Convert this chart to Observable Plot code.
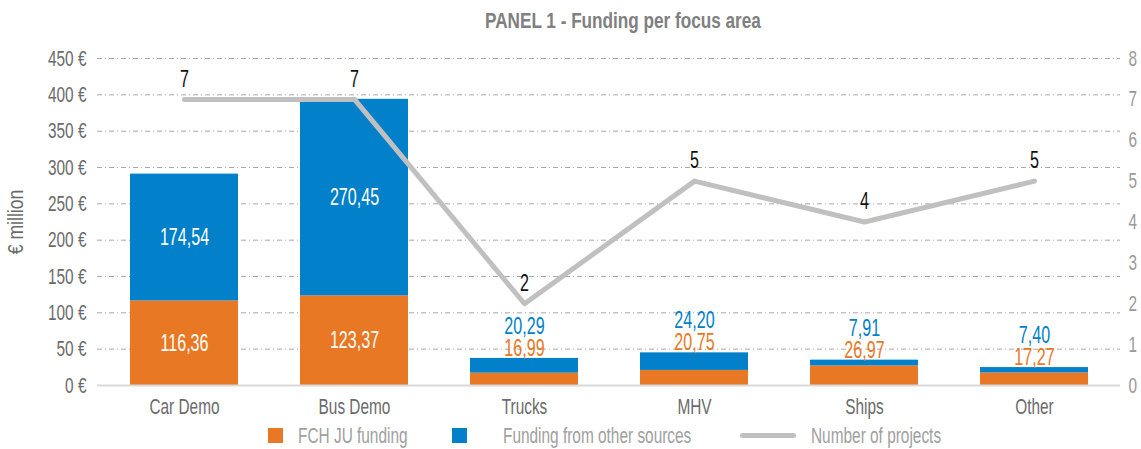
<!DOCTYPE html>
<html><head><meta charset="utf-8">
<script src="https://cdn.jsdelivr.net/npm/d3@7"></script>
<script src="https://cdn.jsdelivr.net/npm/@observablehq/plot@0.6"></script>
<style>
body{margin:0;background:#fff;font-family:"Liberation Sans",Arial,sans-serif;}
#wrap{position:relative;width:1141px;height:449px;overflow:hidden;}
#title{position:absolute;top:8px;left:485px;font-weight:bold;font-size:22px;line-height:26px;color:#808080;transform:scaleX(0.78);transform-origin:left center;white-space:nowrap;}
#chart{position:absolute;top:40px;left:0;}
.lg{position:absolute;top:423px;font-size:22px;line-height:26px;color:#a0a0a0;transform:scaleX(0.7);transform-origin:left center;white-space:nowrap;}
.sw{position:absolute;width:15px;height:15px;}
</style></head>
<body><div id="wrap">
<div id="title">PANEL 1 - Funding per focus area</div>
<div id="chart"></div>
<div class="sw" style="left:268px;top:428px;background:#e97824"></div>
<div class="lg" style="left:298px">FCH JU funding</div>
<div class="sw" style="left:452px;top:428px;background:#0280c9"></div>
<div class="lg" style="left:503px">Funding from other sources</div>
<div style="position:absolute;left:740px;top:433px;width:56px;height:5px;border-radius:3px;background:#c0c0c0"></div>
<div class="lg" style="left:811px">Number of projects</div>
</div>
<script>
const areas = ["Car Demo","Bus Demo","Trucks","MHV","Ships","Other"];
const fchFunding = [116.36,123.37,16.99,20.75,26.97,17.27];
const otherFunding = [174.54,270.45,20.29,24.20,7.91,7.40];
const projects = [7,7,2,5,4,5];
const leftTicks = [0,50,100,150,200,250,300,350,400,450];
const rightTicks = [0,1,2,3,4,5,6,7,8];

const ORANGE = "#e97824", BLUE = "#0280c9";
const yMax = 450, rMax = 8, k = yMax / rMax;
const fmt = v => v.toFixed(2).replace(".", ",");

const long = [];
areas.forEach((a,i)=>{
  long.push({area:a, series:"FCH JU funding", value:fchFunding[i]});
  long.push({area:a, series:"Funding from other sources", value:otherFunding[i]});
});
const totals = areas.map((a,i)=>({area:a, fch:fchFunding[i], other:otherFunding[i], total:fchFunding[i]+otherFunding[i]}));
const big = totals.filter(d=>d.total>100);
const small = totals.filter(d=>d.total<=100);
const proj = areas.map((a,i)=>({area:a, n:projects[i], yv:projects[i]*k}));

const plot = Plot.plot({
  width:1141, height:380,
  marginLeft:97, marginRight:21, marginTop:18, marginBottom:35,
  style:{fontFamily:"'Liberation Sans', Arial, sans-serif", fontSize:"22px", background:"transparent"},
  x:{domain:areas, paddingInner:0.367, paddingOuter:0.18},
  y:{domain:[0,yMax]},
  color:{domain:["FCH JU funding","Funding from other sources"], range:[ORANGE,BLUE]},
  marks:[
    Plot.ruleY(leftTicks.filter(d=>d>0), {stroke:"#a8a8a8", strokeWidth:1, strokeDasharray:"5,3,1,3"}),
    Plot.axisY(leftTicks, {anchor:"left", tickSize:0, tickPadding:11, tickFormat:d=>d+" €", fill:"#6b6b6b", fontSize:22,
      label:"€ million", labelAnchor:"center", labelArrow:"none", labelOffset:90}),
    Plot.axisY(rightTicks.map(v=>v*k), {anchor:"right", tickSize:0, tickPadding:8, tickFormat:d=>String(Math.round(d/k)), fill:"#9a9a9a", fontSize:22, label:null}),
    Plot.axisX(areas, {tickSize:0, tickPadding:13, fill:"#6b6b6b", fontSize:22, label:null}),
    Plot.barY(long, {x:"area", y:"value", fill:"series"}),
    Plot.ruleY([0], {stroke:"#d9d9d9", strokeWidth:2}),
    Plot.text(long.filter(d=>big.some(b=>b.area===d.area)), Plot.stackY({x:"area", y:"value", z:"series", text:d=>fmt(d.value), fill:"white", fontSize:23})),
    Plot.text(small, {x:"area", y:"total", text:d=>fmt(d.fch), fill:ORANGE, fontSize:23, dy:-10}),
    Plot.text(small, {x:"area", y:"total", text:d=>fmt(d.other), fill:BLUE, fontSize:23, dy:-32}),
    Plot.line(proj, {x:"area", y:"yv", stroke:"#c0c0c0", strokeWidth:5, strokeLinecap:"round", strokeLinejoin:"round"}),
    Plot.text(proj, {x:"area", y:"yv", text:d=>String(d.n), fill:"#111", fontSize:23, dy:-20})
  ]
});
// condense text horizontally (the original uses a condensed typeface)
plot.querySelectorAll("text").forEach(t=>{
  const sx = t.textContent === "€ million" ? 0.8 : 0.7;
  const tr = t.getAttribute("transform") || "";
  t.setAttribute("transform", `${tr} scale(${sx},1)`);
});
document.getElementById("chart").appendChild(plot);
</script>
</body></html>
